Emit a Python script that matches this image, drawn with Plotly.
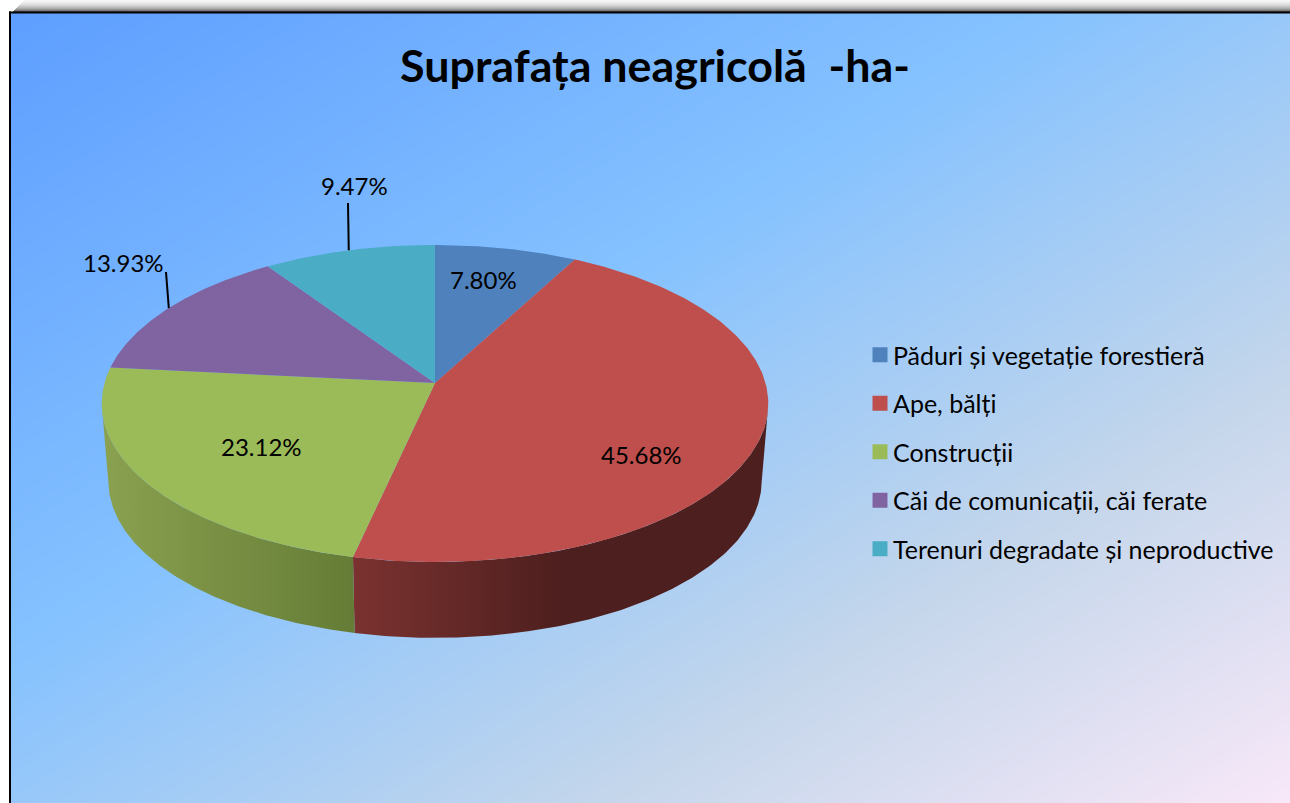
import numpy as np
import plotly.graph_objects as go

# ---------- data ----------
categories = ["Păduri și vegetație forestieră", "Ape, bălți", "Construcții",
              "Căi de comunicații, căi ferate", "Terenuri degradate și neproductive"]
percent_values = [7.80, 45.68, 23.12, 13.93, 9.47]
slice_colors = ["#4F81BD", "#BE4F4C", "#9BBB59", "#8064A2", "#4BACC6"]
title_text = "Suprafața neagricolă  -ha-"

# ---------- layout constants (pixel-space axes) ----------
W, H = 1290, 803
FONT = "Lato"
APEX_X, APEX_Y = 435.0, 383.0
RX, RY, PERSP = 330.5, 155.9, 0.129
BOT_SCALE_X, BOT_APEX_Y, BOT_RY = 0.98, 461.0, 154.0
LABEL_POS = [(483, 279), (641, 454), (261, 446), (123, 262), (354, 185)]
LEADER_OUT = [None, None, None, (166, 272), (348, 203)]
RED_WALL = [[0, "#7B3230"], [0.5, "#4D1F1E"], [1, "#4D1F1E"]]
GREEN_WALL = [[0, "#8AA150"], [1, "#657C36"]]
SILHOUETTE_L, SILHOUETTE_R = 262.0, 98.0


def top_pt(theta, r=1.0):
    u, v = r * np.sin(theta), r * np.cos(theta)
    s = 1 / (1 + PERSP * v)
    return APEX_X + RX * u * s, APEX_Y - RY * v * s


def bot_pt(theta):
    u, v = np.sin(theta), np.cos(theta)
    s = 1 / (1 + PERSP * v)
    return APEX_X + BOT_SCALE_X * RX * u * s, BOT_APEX_Y - BOT_RY * v * s


fractions = np.array(percent_values) / sum(percent_values)
edges = np.concatenate([[0], np.cumsum(fractions)]) * 2 * np.pi
mids = (edges[:-1] + edges[1:]) / 2

fig = go.Figure()

# background gradient
gx = np.linspace(0, W + 20, 40)
gy = np.linspace(0, H + 20, 40)
gz = [[((x - 11) / 1325 + (y - 13) / 825) / 2 for x in gx] for y in gy]
fig.add_trace(go.Heatmap(
    x=gx, y=gy, z=gz, zmin=0, zmax=1, zsmooth="best", showscale=False, hoverinfo="skip",
    colorscale=[[0, "#5E9EFF"], [0.39, "#85C2FF"], [0.70, "#C4D6EB"], [1, "#FFEBFA"]],
))

# side walls (the visible front rim of the red and green slices)
for (a, b, stops) in [(np.radians(SILHOUETTE_R), edges[2], RED_WALL), (edges[2], np.radians(SILHOUETTE_L), GREEN_WALL)]:
    th = np.linspace(a, b, 160)
    tx, ty = top_pt(th)
    bx, by = bot_pt(th[::-1])
    fig.add_trace(go.Scatter(
        x=np.concatenate([tx, bx]), y=np.concatenate([ty, by]),
        mode="lines", line=dict(width=0), fill="toself", showlegend=False, hoverinfo="skip",
        fillgradient=dict(type="horizontal", colorscale=stops),
    ))

# top face
for i in range(len(categories)):
    th = np.linspace(edges[i], edges[i + 1], 200)
    x, y = top_pt(th)
    fig.add_trace(go.Scatter(
        x=np.concatenate([[APEX_X], x, [APEX_X]]), y=np.concatenate([[APEX_Y], y, [APEX_Y]]),
        mode="lines", line=dict(width=0, color=slice_colors[i]), fill="toself",
        fillcolor=slice_colors[i], showlegend=False, name=categories[i],
        hovertemplate=f"{categories[i]}: {percent_values[i]:.2f}%<extra></extra>",
    ))

# leader lines
for i, out in enumerate(LEADER_OUT):
    if out is None:
        continue
    ex, ey = top_pt(mids[i])
    fig.add_trace(go.Scatter(x=[out[0], ex], y=[out[1], ey], mode="lines",
                             line=dict(color="black", width=2), showlegend=False, hoverinfo="skip"))

# legend entries
for i, cat in enumerate(categories):
    fig.add_trace(go.Scatter(x=[None], y=[None], mode="markers", name=cat, legendgroup=cat,
                             marker=dict(symbol="square", size=15, color=slice_colors[i], line=dict(width=0))))

annotations = [dict(x=p[0], y=p[1], xref="x", yref="y", text=f"{v:.2f}%", showarrow=False,
                    font=dict(family=FONT, size=24, color="black"))
               for p, v in zip(LABEL_POS, percent_values)]

shapes = [
    dict(type="rect", layer="above", x0=0, x1=W, y0=0, y1=12, fillcolor="white", line_width=0),
    dict(type="rect", layer="above", x0=0, x1=9, y0=0, y1=H, fillcolor="white", line_width=0),
]
shadow_levels = [0.03, 0.05, 0.07, 0.10, 0.13, 0.17, 0.22, 0.27, 0.33, 0.41, 0.52, 0.68]
for k, alpha in enumerate(shadow_levels):
    shapes.append(dict(type="rect", layer="above", x0=24 - k, x1=W, y0=k, y1=1 + k,
                       fillcolor=f"rgba(0,0,0,{alpha})", line_width=0))
shapes += [
    dict(type="rect", layer="above", x0=9, x1=11, y0=11.5, y1=H, fillcolor="black", line_width=0),
    dict(type="rect", layer="above", x0=9, x1=W, y0=11.5, y1=13.5, fillcolor="black", line_width=0),
]

fig.update_layout(
    width=W, height=H, margin=dict(l=0, r=0, t=0, b=0), autosize=False,
    paper_bgcolor="white", plot_bgcolor="white",
    xaxis=dict(range=[0, W], visible=False, fixedrange=True),
    yaxis=dict(range=[H, 0], visible=False, fixedrange=True),
    title=dict(text=f"<b>{title_text}</b>", x=655 / W, xanchor="center", xref="paper",
               y=1 - 66 / H, yanchor="middle", yref="paper",
               font=dict(family=FONT, size=44.8, color="black")),
    legend=dict(x=860 / W, y=1 - 332 / H, xanchor="left", yanchor="top",
                bgcolor="rgba(0,0,0,0)", font=dict(family=FONT, size=25, color="black"),
                tracegroupgap=13, itemclick=False, itemdoubleclick=False),
    annotations=annotations, shapes=shapes, showlegend=True,
)

# plotly's legend gap is fixed at 40 px from the entry's left edge; the reference sets text closer
post = """document.body.style.margin='0';document.body.style.overflow='hidden';
var g=document.getElementById('{plot_id}');
function t(){g.querySelectorAll('.legendtext').forEach(function(e){e.setAttribute('x','33');});}
t();g.on&&g.on('plotly_afterplot',t);"""
fig.write_html("out.html", config=dict(displayModeBar=False), post_script=post)
